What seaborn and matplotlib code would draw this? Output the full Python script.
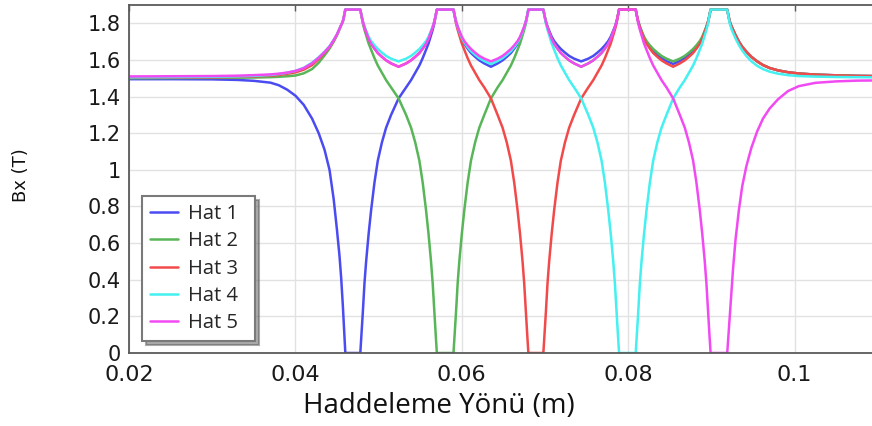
import matplotlib
matplotlib.use("Agg")
import matplotlib.pyplot as plt
import pandas as pd
import seaborn as sns

# ---------------------------------------------------------------------------
# Position along the rolling direction (m), split into the stretch before the
# first pole, the four gaps between pole flats and the stretch after the last
# ---------------------------------------------------------------------------
x_lead = [0.020, 0.025, 0.030, 0.033, 0.035, 0.037, 0.038, 0.039, 0.040,
          0.041, 0.042, 0.0428, 0.0435, 0.0441, 0.0446, 0.0450, 0.0453,
          0.0455, 0.0457, 0.04585, 0.0460]
x_gap1 = [0.0478, 0.04795, 0.0481, 0.0483, 0.0485, 0.0488, 0.0491, 0.0495,
          0.0499, 0.0504, 0.0509, 0.0515, 0.0524, 0.0533, 0.0539, 0.0544,
          0.0549, 0.0553, 0.0557, 0.0560, 0.0563, 0.0565, 0.0567, 0.05685,
          0.0570]
x_gap2 = [0.0590, 0.05915, 0.0593, 0.0595, 0.0597, 0.0600, 0.0603, 0.0607,
          0.0611, 0.0616, 0.0621, 0.0627, 0.0635, 0.0643, 0.0649, 0.0654,
          0.0659, 0.0663, 0.0667, 0.0670, 0.0673, 0.0675, 0.0677, 0.06785,
          0.0680]
x_gap3 = [0.0698, 0.06995, 0.0701, 0.0703, 0.0705, 0.0708, 0.0711, 0.0715,
          0.0719, 0.0724, 0.0729, 0.0735, 0.07435, 0.0752, 0.0758, 0.0763,
          0.0768, 0.0772, 0.0776, 0.0779, 0.0782, 0.0784, 0.0786, 0.07875,
          0.0789]
x_gap4 = [0.0809, 0.08105, 0.0812, 0.0814, 0.0816, 0.0819, 0.0822, 0.0826,
          0.0830, 0.0835, 0.0840, 0.0846, 0.0854, 0.0862, 0.0868, 0.0873,
          0.0878, 0.0882, 0.0886, 0.0889, 0.0892, 0.0894, 0.0896, 0.08975,
          0.0899]
x_tail = [0.0919, 0.09205, 0.0922, 0.0924, 0.0926, 0.0929, 0.0933, 0.0937,
          0.0942, 0.0948, 0.0955, 0.0962, 0.0970, 0.0980, 0.0992, 0.1005,
          0.1025, 0.1050, 0.1075, 0.1095]

# ---------------------------------------------------------------------------
# Bx (T) read along each segment
# ---------------------------------------------------------------------------
# gap where the line leaves its own zero and climbs to the next pole
gap_rise = [0.0, 0.11, 0.22, 0.38, 0.50, 0.65, 0.78, 0.93, 1.05, 1.15, 1.23,
            1.30, 1.39, 1.45, 1.49, 1.53, 1.57, 1.61, 1.655, 1.69, 1.735,
            1.765, 1.80, 1.84, 1.875]
# gap where the line falls from a pole into its own zero
gap_fall = [1.875, 1.84, 1.80, 1.765, 1.735, 1.69, 1.655, 1.61, 1.57, 1.53,
            1.49, 1.45, 1.39, 1.30, 1.23, 1.15, 1.05, 0.93, 0.78, 0.65, 0.50,
            0.38, 0.22, 0.11, 0.0]
# saturated arch between two poles (upper, middle and lower traces)
arch_high = [1.875, 1.84, 1.81, 1.782, 1.76, 1.727, 1.703, 1.68, 1.66, 1.64,
             1.622, 1.607, 1.592, 1.607, 1.622, 1.64, 1.66, 1.68, 1.703, 1.727,
             1.76, 1.782, 1.81, 1.84, 1.875]
arch_mid = [1.875, 1.84, 1.81, 1.78, 1.755, 1.72, 1.695, 1.67, 1.648, 1.628,
            1.61, 1.594, 1.578, 1.594, 1.61, 1.628, 1.648, 1.67, 1.695, 1.72,
            1.755, 1.78, 1.81, 1.84, 1.875]
arch_low = [1.875, 1.84, 1.81, 1.778, 1.752, 1.715, 1.688, 1.662, 1.638,
            1.617, 1.598, 1.581, 1.563, 1.581, 1.598, 1.617, 1.638, 1.662,
            1.688, 1.715, 1.752, 1.778, 1.81, 1.84, 1.875]

lead_hat1 = [1.495, 1.495, 1.494, 1.491, 1.486, 1.476, 1.462, 1.438, 1.405,
             1.355, 1.28, 1.20, 1.11, 1.00, 0.84, 0.67, 0.53, 0.41, 0.26,
             0.13, 0.0]
lead_hat2 = [1.500, 1.501, 1.502, 1.503, 1.504, 1.506, 1.508, 1.511, 1.515,
             1.527, 1.55, 1.585, 1.625, 1.662, 1.70, 1.735, 1.768, 1.79, 1.81,
             1.84, 1.875]
lead_hat3 = [1.503, 1.504, 1.505, 1.507, 1.510, 1.514, 1.518, 1.524, 1.532,
             1.547, 1.572, 1.605, 1.638, 1.67, 1.705, 1.738, 1.77, 1.79, 1.81,
             1.84, 1.875]
lead_hat4 = [1.505, 1.506, 1.508, 1.510, 1.513, 1.518, 1.523, 1.530, 1.540,
             1.557, 1.585, 1.615, 1.645, 1.675, 1.71, 1.74, 1.77, 1.79, 1.81,
             1.84, 1.875]
lead_hat5 = [1.510, 1.511, 1.512, 1.514, 1.517, 1.521, 1.525, 1.531, 1.540,
             1.555, 1.582, 1.612, 1.643, 1.673, 1.708, 1.74, 1.77, 1.79, 1.81,
             1.84, 1.875]

tail_upper = [1.875, 1.84, 1.81, 1.785, 1.765, 1.735, 1.70, 1.672, 1.645,
              1.617, 1.592, 1.572, 1.556, 1.543, 1.533, 1.526, 1.52, 1.516,
              1.513, 1.512]
tail_hat4 = [1.875, 1.835, 1.80, 1.77, 1.748, 1.717, 1.682, 1.652, 1.622,
             1.593, 1.568, 1.55, 1.536, 1.525, 1.517, 1.512, 1.509, 1.507,
             1.506, 1.505]
tail_hat5 = [0.0, 0.10, 0.20, 0.34, 0.46, 0.62, 0.78, 0.91, 1.02, 1.12, 1.21,
             1.28, 1.335, 1.385, 1.43, 1.457, 1.475, 1.483, 1.487, 1.488]

position = x_lead + x_gap1 + x_gap2 + x_gap3 + x_gap4 + x_tail
hat_1 = lead_hat1 + gap_rise + arch_low + arch_high + arch_mid + tail_upper
hat_2 = lead_hat2 + gap_fall + gap_rise + arch_low + arch_high + tail_upper
hat_3 = lead_hat3 + arch_low + gap_fall + gap_rise + arch_low + tail_upper
hat_4 = lead_hat4 + arch_high + arch_mid + gap_fall + gap_rise + tail_hat4
hat_5 = lead_hat5 + arch_low + arch_high + arch_low + gap_fall + tail_hat5

line_labels = ["Hat 1", "Hat 2", "Hat 3", "Hat 4", "Hat 5"]
line_colors = ["#4b4bf2", "#58b658", "#f24a4a", "#44f0f0", "#f24af2"]
x_ticks = [0.02, 0.04, 0.06, 0.08, 0.1]
x_tick_labels = ["0.02", "0.04", "0.06", "0.08", "0.1"]
y_ticks = [0, 0.2, 0.4, 0.6, 0.8, 1.0, 1.2, 1.4, 1.6, 1.8]
y_tick_labels = ["0", "0.2", "0.4", "0.6", "0.8", "1", "1.2", "1.4", "1.6", "1.8"]

df = pd.concat(
    [pd.DataFrame({"x": position, "Bx": vals, "Hat": lab})
     for lab, vals in zip(line_labels, [hat_1, hat_2, hat_3, hat_4, hat_5])],
    ignore_index=True,
)

sns.set_style("white")
plt.rcParams["font.family"] = ["DejaVu Sans"]

W, H = 872, 426
fig = plt.figure(figsize=(W / 100, H / 100), dpi=100)
ax = fig.add_axes([129 / W, (H - 353) / H, (W - 129) / W, (353 - 5) / H])

sns.lineplot(data=df, x="x", y="Bx", hue="Hat", palette=line_colors,
             estimator=None, sort=False, linewidth=1.8, ax=ax)

ax.set_xlim(0.02, 0.1093)
ax.set_ylim(0, 1.9)
ax.set_xticks(x_ticks, x_tick_labels)
ax.set_yticks(y_ticks, y_tick_labels)
ax.grid(True, color="#e2e2e2", linewidth=1.0)
ax.set_axisbelow(True)

for side in ("left", "bottom", "top"):
    ax.spines[side].set_color("#5a5a5a")
    ax.spines[side].set_linewidth(1.3)
ax.spines["right"].set_visible(False)

ax.tick_params(direction="in", length=4, width=1, color="#5a5a5a",
               top=True, right=False, labelcolor="#1a1a1a")
ax.tick_params(axis="y", pad=6, labelsize=15)
ax.tick_params(axis="x", pad=8.5, labelsize=16)

ax.set_xlabel("Haddeleme Yönü (m)", family="Open Sans", fontsize=20,
              color="#111111")
ax.xaxis.label.set_va("center")
ax.xaxis.set_label_coords((439 - 129) / 743, (353 - 406) / 348)

ax.set_ylabel("Bx (T)", fontsize=13, color="#111111")
ax.yaxis.label.set_va("center")
ax.yaxis.set_label_coords((21 - 129) / 743, (353 - 175) / 348)

old = ax.get_legend()
handles = old.legend_handles
labels = [t.get_text() for t in old.get_texts()]
old.remove()
leg = ax.legend(handles, labels, loc="lower left", mode="expand",
                bbox_to_anchor=((142 - 129) / 743, (353 - 341) / 348,
                                113 / 743, 144 / 348),
                borderaxespad=0, frameon=True, fancybox=False,
                shadow={"ox": 3, "oy": -3, "shade": 0.65},
                prop={"family": "Open Sans", "size": 14.5},
                handlelength=1.4, handletextpad=0.5, labelspacing=0.365,
                borderpad=0.38, framealpha=1)
leg.get_frame().set_edgecolor("#7a7a7a")
leg.get_frame().set_linewidth(1.5)
for h in leg.legend_handles:
    h.set_linewidth(1.8)

fig.savefig("out.png", dpi=100)
